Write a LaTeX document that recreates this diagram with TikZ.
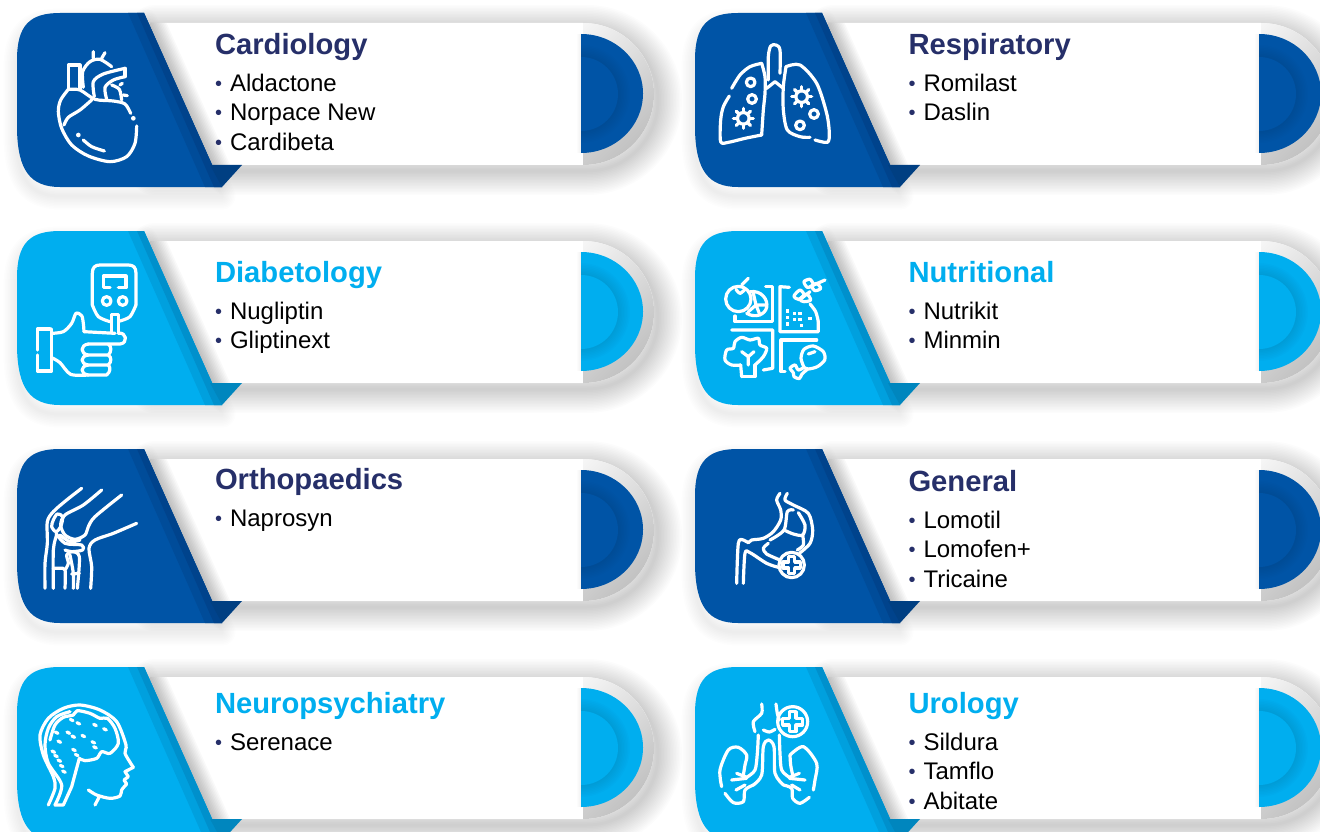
\documentclass[tikz,border=0pt]{standalone}
\usepackage{fontspec}
\setmainfont{Liberation Sans}
\definecolor{dkmain}{HTML}{0054A6}
\definecolor{dkbandA}{HTML}{004C99}
\definecolor{dkbandB}{HTML}{00438C}
\definecolor{dkfold}{HTML}{003F82}
\definecolor{cymain}{HTML}{00AEEF}
\definecolor{cybandA}{HTML}{00A0DE}
\definecolor{cybandB}{HTML}{0090CC}
\definecolor{cyfold}{HTML}{0086BE}
\definecolor{navy}{HTML}{262F69}
\tikzset{
 ic/.style={draw=white,line width=3.2pt,line cap=round,line join=round,fill=none},
 icdot/.style={fill=white,draw=none},
 ttl/.style={anchor=base west,inner sep=0pt,outer sep=0pt,font=\fontsize{29.2}{32}\selectfont\bfseries},
 itm/.style={anchor=base west,inner sep=0pt,outer sep=0pt,font=\fontsize{24}{28}\selectfont,text=black},
}
\newcommand{\blt}{\makebox[15pt][l]{\raisebox{1.2pt}{\fontsize{20}{20}\selectfont\textcolor{navy}{•}}}}
\def\pillpath{(150,23) -- (583,23) arc[start angle=90,end angle=-90,radius=71pt] -- (150,165) -- cycle}
\def\mainpath{(60,13) .. controls (30,13) and (17,25) .. (17,60) -- (17,130) .. controls (18,170) and (30,187) .. (60,187) -- (222,187) -- (144,13) -- cycle}
% #1 x, #2 y, #3 main, #4 band a, #5 band b, #6 fold
\newcommand{\cardbg}[6]{%
\begin{scope}[shift={(#1,#2)}]
 \begin{scope}[shift={(0,9)}]
  \foreach \w in {3,6,...,27}{\draw[black,opacity=.008,line width=\w pt,line join=round] \mainpath;}
 \end{scope}
 \begin{scope}[shift={(4,6)}]
  \foreach \w in {3,6,...,48}{\draw[black,opacity=.012,line width=\w pt,line join=round] \pillpath;}
 \end{scope}
 \fill[white] \pillpath;
 \begin{scope}
  \clip (583,15) rectangle (660,175);
  \shade[top color=white,bottom color=black!24,shading angle=45] (583,94) circle[radius=71pt];
 \end{scope}
 \begin{scope}
  \clip \pillpath;
  \foreach \w in {3,6,...,33}{\draw[black,opacity=.024,line width=\w pt] (144,13) -- (222,187);}
  \foreach \w in {2,4,6,8}{\draw[black,opacity=.012,line width=\w pt] (581,34) -- (581,153);}
 \end{scope}
 \fill[#3] (581,34) arc[start angle=90,end angle=-90,x radius=62pt,y radius=59.5pt] -- cycle;
 \begin{scope}
  \clip (581,34) arc[start angle=90,end angle=-90,x radius=62pt,y radius=59.5pt] -- cycle;
  \foreach \w in {3,6,...,24}{\draw[black,opacity=.012,line width=\w pt] (581,57) arc[start angle=90,end angle=-90,radius=37pt] -- cycle;}
 \end{scope}
 \fill[#3] (581,57) arc[start angle=90,end angle=-90,radius=37pt] -- cycle;
 \fill[#3] \mainpath;
 \fill[#4] (128,13) -- (144,13) -- (222,187) -- (205,187) -- cycle;
 \fill[#5] (137,13) -- (144,13) -- (222,187) -- (214,187) -- cycle;
 \fill[#6] (210,165) -- (242,165) -- (222,187) -- cycle;
\end{scope}}
\newcommand{\gearic}[3]{%
 \draw[ic] (#1,#2) circle[radius=#3*0.58 pt];
 \foreach \a in {0,45,...,315}{\draw[ic] ($(#1,#2)+(\a:#3*0.58 pt)$) -- ($(#1,#2)+(\a:#3 pt)$);}}
\newcommand{\plusic}[5]{% x y r half-width half-length
 \draw[ic] (#1,#2) circle[radius=#3 pt];
 \draw[ic] ($(#1,#2)+(-#4 pt,#4 pt)$) -- ++(0pt,#5 pt-#4 pt) -- ++(2*#4 pt,0pt) -- ++(0pt,-#5 pt+#4 pt) -- ++(#5 pt-#4 pt,0pt) -- ++(0pt,-2*#4 pt) -- ++(-#5 pt+#4 pt,0pt) -- ++(0pt,-#5 pt+#4 pt) -- ++(-2*#4 pt,0pt) -- ++(0pt,#5 pt-#4 pt) -- ++(-#5 pt+#4 pt,0pt) -- ++(0pt,2*#4 pt) -- cycle;}
\usetikzlibrary{calc}
\begin{document}
\begin{tikzpicture}[x=1pt,y=-1pt]
\useasboundingbox (0,0) rectangle (1320,832);
\fill[white] (0,0) rectangle (1320,832);
\clip (0,0) rectangle (1320,832);
\cardbg{0}{0}{dkmain}{dkbandA}{dkbandB}{dkfold}
\cardbg{678}{0}{dkmain}{dkbandA}{dkbandB}{dkfold}
\cardbg{0}{218}{cymain}{cybandA}{cybandB}{cyfold}
\cardbg{678}{218}{cymain}{cybandA}{cybandB}{cyfold}
\cardbg{0}{436}{dkmain}{dkbandA}{dkbandB}{dkfold}
\cardbg{678}{436}{dkmain}{dkbandA}{dkbandB}{dkfold}
\cardbg{0}{654}{cymain}{cybandA}{cybandB}{cyfold}
\cardbg{678}{654}{cymain}{cybandA}{cybandB}{cyfold}
% texts
\node[ttl,text=navy] (t1) at (215,54.7) {Cardiology};
\node[itm] (a1) at (215,91.6) {\blt Aldactone};
\node[itm] (a2) at (215,120.6) {\blt Norpace New};
\node[itm] (a3) at (215,150.4) {\blt Cardibeta};
\node[ttl,text=navy] (t2) at (908.5,54.7) {Respiratory};
\node[itm] (b1) at (908.5,91.6) {\blt Romilast};
\node[itm] (b2) at (908.5,120.6) {\blt Daslin};
\node[ttl,text=cymain] (t3) at (215,282.5) {Diabetology};
\node[itm] (c1) at (215,319.5) {\blt Nugliptin};
\node[itm] (c2) at (215,348.5) {\blt Gliptinext};
\node[ttl,text=cymain] (t4) at (908.5,282.5) {Nutritional};
\node[itm] (d1) at (908.5,319.5) {\blt Nutrikit};
\node[itm] (d2) at (908.5,348.5) {\blt Minmin};
\node[ttl,text=navy] (t5) at (215,489.5) {Orthopaedics};
\node[itm] (e1) at (215,526.5) {\blt Naprosyn};
\node[ttl,text=navy] (t6) at (908.5,491.5) {General};
\node[itm] (f1) at (908.5,528.5) {\blt Lomotil};
\node[itm] (f2) at (908.5,557.5) {\blt Lomofen+};
\node[itm] (f3) at (908.5,587.5) {\blt Tricaine};
\node[ttl,text=cymain] (t7) at (215,713.5) {Neuropsychiatry};
\node[itm] (g1) at (215,750.5) {\blt Serenace};
\node[ttl,text=cymain] (t8) at (908.5,713.5) {Urology};
\node[itm] (h1) at (908.5,750.5) {\blt Sildura};
\node[itm] (h2) at (908.5,779.5) {\blt Tamflo};
\node[itm] (h3) at (908.5,809.5) {\blt Abitate};
% heart
\begin{scope}[shift={(0,0)},scale=1/3]
 \draw[ic] plot[smooth] coordinates {(205,268)(182,300)(175,335)(185,385)(215,435)(265,468)(330,485)(380,470)(405,430)(410,378)};
 \draw[ic] plot[smooth] coordinates {(205,268)(240,270)(285,298)(340,303)(375,312)(392,340)};
 \draw[ic] plot[smooth] coordinates {(275,300)(240,330)(205,352)(192,375)};
 \draw[ic] (205,268) -- (205,195) -- (240,195) -- (240,268);
 \draw[ic] plot[smooth] coordinates {(250,262)(248,215)(270,185)(300,178)(335,200)};
 \draw[ic] (280,155) -- (280,175) (315,158) -- (305,175);
 \draw[ic] plot[smooth] coordinates {(283,290)(280,245)(310,222)(375,205)};
 \draw[ic] (375,205) -- (375,230);
 \draw[ic] plot[smooth] coordinates {(375,230)(340,240)(315,262)(320,298)};
 \draw[ic] plot[smooth] coordinates {(335,255)(358,268)(365,300)};
 \draw[ic] (370,285) -- (382,287) (360,255) -- (367,250);
 \fill[icdot] (400,355) circle[radius=7pt] (235,405) circle[radius=7pt];
 \draw[ic] plot[smooth] coordinates {(250,420)(275,440)(313,453)};
\end{scope}
% lungs
\begin{scope}[shift={(700,20)},scale=1/3]
 \draw[ic] plot[smooth] coordinates {(95,205)(120,165)(150,140)(185,130)};
 \draw[ic] plot[smooth] coordinates {(185,130)(195,170)(195,220)(190,270)(185,345)};
 \draw[ic] plot[smooth] coordinates {(185,345)(135,355)(85,367)(62,365)(62,300)(70,260)(88,228)};
 \draw[ic] plot[smooth] coordinates {(205,180)(205,110)(212,78)(228,75)(240,90)(240,160)};
 \draw[ic] (200,205) -- (225,185) -- (250,205);
 \draw[ic] plot[smooth] coordinates {(258,140)(300,135)(350,190)(380,280)(388,340)(382,367)(345,360)};
 \draw[ic] plot[smooth] coordinates {(258,140)(250,200)(250,270)(262,330)(300,350)(330,352)};
 \draw[ic] (152,187) circle[radius=13pt] (156,237) circle[radius=13pt] (342,282) circle[radius=13pt] (300,316) circle[radius=13pt];
 \gearic{130}{295}{30}
 \gearic{305}{230}{30}
\end{scope}
% glucose meter and hand
\begin{scope}[shift={(0,220)},scale=1/3]
 \draw[ic] plot[smooth] coordinates {(330,305)(295,290)(277,255)};
 \draw[ic] (277,255) -- (277,160) .. controls (277,142) and (285,135) .. (300,135) -- (385,135) .. controls (400,135) and (408,142) .. (408,160) -- (408,255);
 \draw[ic] plot[smooth] coordinates {(408,255)(390,290)(360,303)};
 \draw[ic] (330,203) -- (310,203) -- (310,168) -- (378,168) -- (378,203) -- (355,203);
 \draw[ic] (320,243) circle[radius=13pt] (368,243) circle[radius=13pt];
 \draw[ic] (335,335) -- (335,283) -- (355,283) -- (355,340);
 \draw[ic] (150,327) -- (112,327) -- (112,390) (112,405) -- (112,453) -- (155,453) -- (155,327);
 \draw[ic] plot[smooth] coordinates {(155,340)(190,335)(215,310)(228,280)(245,287)(250,310)(252,335)};
 \draw[ic] (252,335) -- (345,340) (355,340) .. controls (380,335) and (385,370) .. (360,372) -- (265,372);
 \draw[ic] (265,372) .. controls (240,375) and (240,402) .. (265,405) -- (325,405) .. controls (335,395) and (335,380) .. (325,372);
 \draw[ic] (265,405) .. controls (240,408) and (240,432) .. (265,435) -- (325,435) .. controls (335,425) and (335,412) .. (325,405);
 \draw[ic] (265,435) .. controls (240,438) and (240,462) .. (265,465) -- (320,465) .. controls (332,455) and (332,442) .. (325,435);
 \draw[ic] plot[smooth] coordinates {(155,413)(180,428)(212,463)(265,465)};
\end{scope}
% nutrition
\begin{scope}[shift={(700,250)},scale=1/3]
 \draw[ic] (115,147) circle[radius=38pt];
 \draw[ic] (125,105) -- (145,85);
 \draw[ic] plot[smooth] coordinates {(108,118)(120,130)(135,118)};
 \draw[ic] (150,125) .. controls (185,120) and (205,150) .. (200,172) .. controls (195,195) and (165,205) .. (140,190);
 \draw[ic] (168,165) -- (160,130) (168,165) -- (195,165) (168,165) -- (145,185) (168,165) -- (180,195);
 \draw[ic] (197,110) -- (218,110) -- (218,215) -- (105,215) -- (105,198);
 \draw[ic] (268,112) -- (240,110) -- (240,245) -- (355,245) -- (355,215);
 \draw[ic] plot[smooth] coordinates {(355,215)(347,185)(330,162)};
 \draw[ic] (95,240) -- (218,240) -- (218,355) -- (190,360);
 \draw[ic] (350,270) -- (243,270) -- (243,365) -- (255,365);
 \foreach \p in {(262,183),(283,190),(300,190),(262,203),(283,208),(300,208),(330,205),(262,222),(305,226)}{\fill[icdot] \p ++(-5pt,-5pt) rectangle ++(10pt,10pt);}
 \draw[ic] (125,380) -- (165,380) -- (165,345);
 \draw[ic] plot[smooth] coordinates {(165,345)(190,320)(200,295)(180,285)(175,265)(150,270)(125,262)(105,275)(100,295)(80,300)(75,330)(95,345)(122,345)};
 \draw[ic] (122,345) -- (125,380);
 \draw[ic] (145,345) -- (145,320) -- (125,305) (145,320) -- (162,305);
 \draw[ic] (298,150) -- (330,125) (330,110) -- (375,90);
 \draw[ic] plot[smooth cycle] coordinates {(282,138)(300,120)(312,135)(295,148)};
 \draw[ic] plot[smooth cycle] coordinates {(300,148)(320,132)(332,150)(312,155)};
 \draw[ic] plot[smooth cycle] coordinates {(312,95)(330,88)(340,105)(322,112)};
 \draw[ic] plot[smooth cycle] coordinates {(335,108)(350,100)(362,115)(345,122)};
 \draw[ic] plot[smooth] coordinates {(312,352)(303,325)(312,298)(340,288)(370,305)(374,330)(352,350)(325,357)(312,352)};
 \draw[ic] (325,312) -- (345,305);
 \draw[ic] plot[smooth] coordinates {(312,352)(295,360)(285,345)(270,355)(280,368)(282,380)(298,386)(306,372)(322,358)};
\end{scope}
% knee
\begin{scope}[shift={(20,470)},scale=1/3]
 \draw[ic] plot[smooth] coordinates {(185,55)(140,90)(100,125)(82,155)(82,220)(75,280)(75,355)};
 \draw[ic] plot[smooth] coordinates {(245,60)(190,105)(135,135)(122,165)(135,195)(165,208)(195,195)(205,170)(225,140)(305,75)};
 \draw[ic] plot[smooth] coordinates {(350,160)(280,190)(225,210)(207,235)(215,290)(212,355)};
 \draw[ic] plot[smooth cycle] coordinates {(100,150)(112,132)(128,140)(122,170)(108,185)(95,170)};
 \draw[ic] plot[smooth] coordinates {(108,190)(135,220)(185,225)(188,240)(155,245)(135,240)};
 \draw[ic] plot[smooth] coordinates {(110,195)(100,240)(100,355)};
 \draw[ic] plot[smooth] coordinates {(120,195)(150,215)(180,210)};
 \draw[ic] plot[smooth] coordinates {(135,355)(135,300)(120,295)(100,295)};
 \draw[ic] plot[smooth] coordinates {(135,300)(145,280)(140,255)(155,245)(178,260)(172,355)};
 \draw[ic] plot[smooth] coordinates {(160,355)(160,310)(150,255)};
 \draw[ic] (178,310) -- (155,312);
\end{scope}
% stomach
\begin{scope}[shift={(710,470)},scale=1/3]
 \draw[ic] plot[smooth] coordinates {(210,70)(200,90)(212,120)(212,150)(190,185)(160,205)(125,210)(115,218)(100,210)(85,220)(80,340)};
 \draw[ic] plot[smooth] coordinates {(100,340)(105,250)(120,248)(170,280)(205,292)};
 \draw[ic] plot[smooth] coordinates {(232,70)(225,90)(250,105)(295,130)(308,180)(300,220)(268,250)};
 \draw[ic] plot[smooth] coordinates {(250,120)(232,125)(222,180)(180,210)};
 \draw[ic] plot[smooth] coordinates {(222,180)(250,192)(278,195)(285,165)(265,128)};
 \draw[ic] plot[smooth] coordinates {(278,195)(280,225)(262,240)};
 \draw[ic] plot[smooth] coordinates {(175,220)(160,235)(170,252)(210,270)};
 \plusic{245}{285}{38}{9}{26}
\end{scope}
% brain
\begin{scope}[shift={(20,690)},scale=1/3]
 \draw[ic] plot[smooth] coordinates {(85,345)(105,295)(100,260)(70,195)(60,135)(85,85)(130,55)(180,45)(240,60)(290,95)(318,165)(315,190)(340,232)};
 \draw[ic] (340,232) -- (315,245) -- (325,260) -- (312,270) -- (320,282);
 \draw[ic] plot[smooth] coordinates {(320,282)(305,300)(300,318)(270,325)(230,315)(205,300)};
 \draw[ic] (238,320) -- (225,345);
 \draw[ic] plot[smooth] coordinates {(105,345)(125,285)(85,220)(75,165)(85,115)(110,80)(150,65)};
 \draw[ic] plot[smooth] coordinates {(90,150)(105,105)(130,82)(160,75)(172,62)(210,70)(240,85)(262,85)(285,115)(295,160)(270,190)(245,185)(230,205)(195,212)(178,205)};
 \draw[ic] (178,205) -- (155,290) -- (130,345) -- (105,345);
 \foreach \x/\y in {155/90,175/100,145/128,160/140,190/138,110/128,118/155,225/105,255/118,220/157,225/172,162/180,170/195,100/185,108/198,118/212,125/228,132/245}{\draw[ic] (\x-4,\y-2) -- (\x+4,\y+2);}
\end{scope}
% urology
\begin{scope}[shift={(700,690)},scale=1/3]
 \draw[ic] plot[smooth] coordinates {(185,42)(185,70)(160,95)(165,125)};
 \draw[ic] plot[smooth] coordinates {(228,42)(232,70)(238,90)};
 \plusic{278}{95}{45}{10}{30}
 \draw[ic] plot[smooth] coordinates {(190,120)(208,126)(225,118)};
 \draw[ic] plot[smooth] coordinates {(175,135)(172,190)(165,240)(140,262)};
 \draw[ic] plot[smooth] coordinates {(65,290)(60,240)(85,180)(115,172)(140,195)(135,225)(130,255)};
 \draw[ic] plot[smooth] coordinates {(75,310)(100,338)(130,335)(135,300)(160,285)};
 \draw[ic] plot[smooth] coordinates {(160,285)(185,255)(190,170)(205,150)(222,170)(225,250)(250,285)};
 \draw[ic] plot[smooth] coordinates {(238,135)(240,190)(245,240)(268,262)};
 \draw[ic] plot[smooth] coordinates {(270,195)(310,170)(350,220)(345,270)(340,300)};
 \draw[ic] plot[smooth] coordinates {(270,195)(272,225)(278,255)};
 \draw[ic] plot[smooth] coordinates {(250,285)(275,295)(278,325)(300,340)(328,322)};
 \draw[ic] (140,262) -- (110,250) (140,265) -- (95,270) (135,285) -- (108,300);
 \draw[ic] (268,262) -- (298,250) (268,265) -- (315,270) (275,285) -- (300,300);
\end{scope}
\end{tikzpicture}
\end{document}
